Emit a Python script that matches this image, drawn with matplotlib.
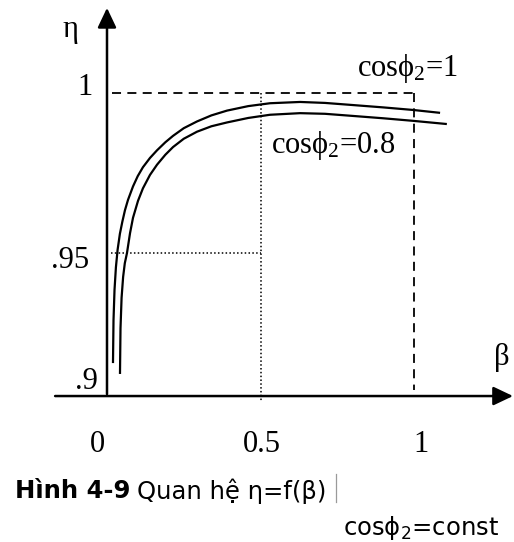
import matplotlib
matplotlib.use("Agg")
import matplotlib.pyplot as plt

plt.rcParams['mathtext.fontset'] = 'custom'
plt.rcParams['mathtext.rm'] = 'Liberation Serif'
plt.rcParams['mathtext.it'] = 'Liberation Serif'
plt.rcParams['mathtext.default'] = 'regular'

# ---- data ----
beta_pf1 = [0.0195, 0.0212, 0.0245, 0.029, 0.0345, 0.042, 0.050, 0.0586, 0.0684,
            0.0847, 0.100, 0.117, 0.140, 0.163, 0.190, 0.215, 0.250, 0.293,
            0.340, 0.391, 0.460, 0.531, 0.629, 0.710, 0.792, 0.900, 0.997, 1.085]
eta_pf1 = [0.9156, 0.9290, 0.9385, 0.9455, 0.9510, 0.9560, 0.9598, 0.9634, 0.9666,
           0.9708, 0.9740, 0.9768, 0.9797, 0.9821, 0.9846, 0.9866, 0.9890, 0.9911,
           0.9930, 0.9945, 0.9959, 0.9968, 0.9972, 0.9969, 0.9963, 0.9955, 0.9947, 0.9938]

beta_pf08 = [0.0423, 0.0440, 0.0475, 0.0525, 0.0580, 0.0651, 0.075, 0.0847, 0.101,
             0.117, 0.140, 0.163, 0.190, 0.215, 0.250, 0.293, 0.340, 0.391,
             0.460, 0.531, 0.629, 0.710, 0.792, 0.900, 0.997, 1.107]
eta_pf08 = [0.9122, 0.9265, 0.9360, 0.9425, 0.9468, 0.9500, 0.9562, 0.9610, 0.9663,
            0.9702, 0.9744, 0.9776, 0.9807, 0.9831, 0.9857, 0.9879, 0.9896, 0.9908,
            0.9922, 0.9932, 0.9937, 0.9935, 0.9929, 0.9921, 0.9913, 0.9903]

x_ticks = [0, 0.5, 1]
x_tick_labels = ['0', '0.5', '1']
y_ticks = [1.0, 0.95, 0.9]
y_tick_labels = ['1', '.95', '.9']
series_labels = [r'cos$\phi_2$=1', r'cos$\phi_2$=0.8']

# ---- layout ----
fig = plt.figure(figsize=(5.14, 5.42), dpi=100)
ax = fig.add_axes([0, 0, 1, 1])
ax.set_xlim(-107 / 307, 407 / 307)
ax.set_ylim(1 - (542 - 93) / 3200, 1 + 93 / 3200)
ax.axis('off')

AXIS_ETA = 0.9053   # where the horizontal axis is drawn (labelled .9)
serif = 'Liberation Serif'
fs = 22

# axes with arrows
arrow = dict(arrowstyle='-|>,head_length=0.8,head_width=0.38', lw=1.8,
             color='black', mutation_scale=15, shrinkA=0, shrinkB=0)
ax.annotate('', xy=(0, 1.0266), xytext=(0, AXIS_ETA + 0.0006), arrowprops=arrow)
ax.annotate('', xy=(1.3225, AXIS_ETA), xytext=(-0.169, AXIS_ETA), arrowprops=arrow)

# guide lines
ax.plot([0.015, 1.0], [1.0, 1.0], color='black', lw=1.3, ls=(0, (5, 3.5)))
ax.plot([1.0, 1.0], [1.0, AXIS_ETA + 0.002], color='black', lw=1.3, ls=(0, (5, 3.5)))
ax.plot([0.012, 0.5], [0.95, 0.95], color='black', lw=1.1, ls=(0, (1, 1.5)))
ax.plot([0.5, 0.5], [1.0, AXIS_ETA - 0.0015], color='black', lw=1.1, ls=(0, (1, 1.5)))

# curves
ax.plot(beta_pf1, eta_pf1, color='black', lw=1.6, solid_capstyle='butt',
        solid_joinstyle='round')
ax.plot(beta_pf08, eta_pf08, color='black', lw=1.6, solid_capstyle='butt',
        solid_joinstyle='round')

# tick labels
y_label_pos = {1.0: (-0.0456, 1.0016), 0.95: (-0.0586, 0.9478), 0.9: (-0.0293, 0.9097)}
for v, lab in zip(y_ticks, y_tick_labels):
    px, py = y_label_pos[v]
    ax.text(px, py, lab, ha='right', va='center', fontsize=fs, family=serif)
x_off = {0: -0.0326, 0.5: 0.005, 1: 0.023}
for v, lab in zip(x_ticks, x_tick_labels):
    ax.text(v + x_off[v], 0.890, lab, ha='center', va='center', fontsize=fs, family=serif)

# axis names
ax.text(-0.1205, 1.0197, 'η', ha='center', va='center', fontsize=fs, family=serif)
ax.text(1.2866, 0.9172, 'β', ha='center', va='center', fontsize=fs, family=serif)

# series labels
ax.text(0.814, 1.0078, series_labels[0], ha='left', va='center', fontsize=fs, family=serif)
ax.text(0.534, 0.98375, series_labels[1], ha='left', va='center', fontsize=fs, family=serif)

# caption
cap_fs = 17.5
cap_y = 1 - (491 - 93) / 3200
cap = ax.text(-0.2997, cap_y, 'Hình 4-9', ha='left', va='center', fontsize=cap_fs,
              family='DejaVu Sans', fontweight='bold')
fig.canvas.draw()
bb = cap.get_window_extent().transformed(ax.transData.inverted())
cap2 = ax.text(bb.x1 + 0.022, cap_y, 'Quan hệ η=f(β)', ha='left', va='center',
               fontsize=cap_fs, family='DejaVu Sans')
fig.canvas.draw()
bb2 = cap2.get_window_extent().transformed(ax.transData.inverted())
ax.plot([bb2.x1 + 0.03] * 2, [1 - (474 - 93) / 3200, 1 - (502 - 93) / 3200],
        color='#9a9a9a', lw=0.9)
ax.text(0.770, 1 - (528 - 93) / 3200, r'cos$\phi_2$=const', ha='left', va='center',
        fontsize=cap_fs, family='DejaVu Sans')

fig.savefig('out.png', dpi=100)
